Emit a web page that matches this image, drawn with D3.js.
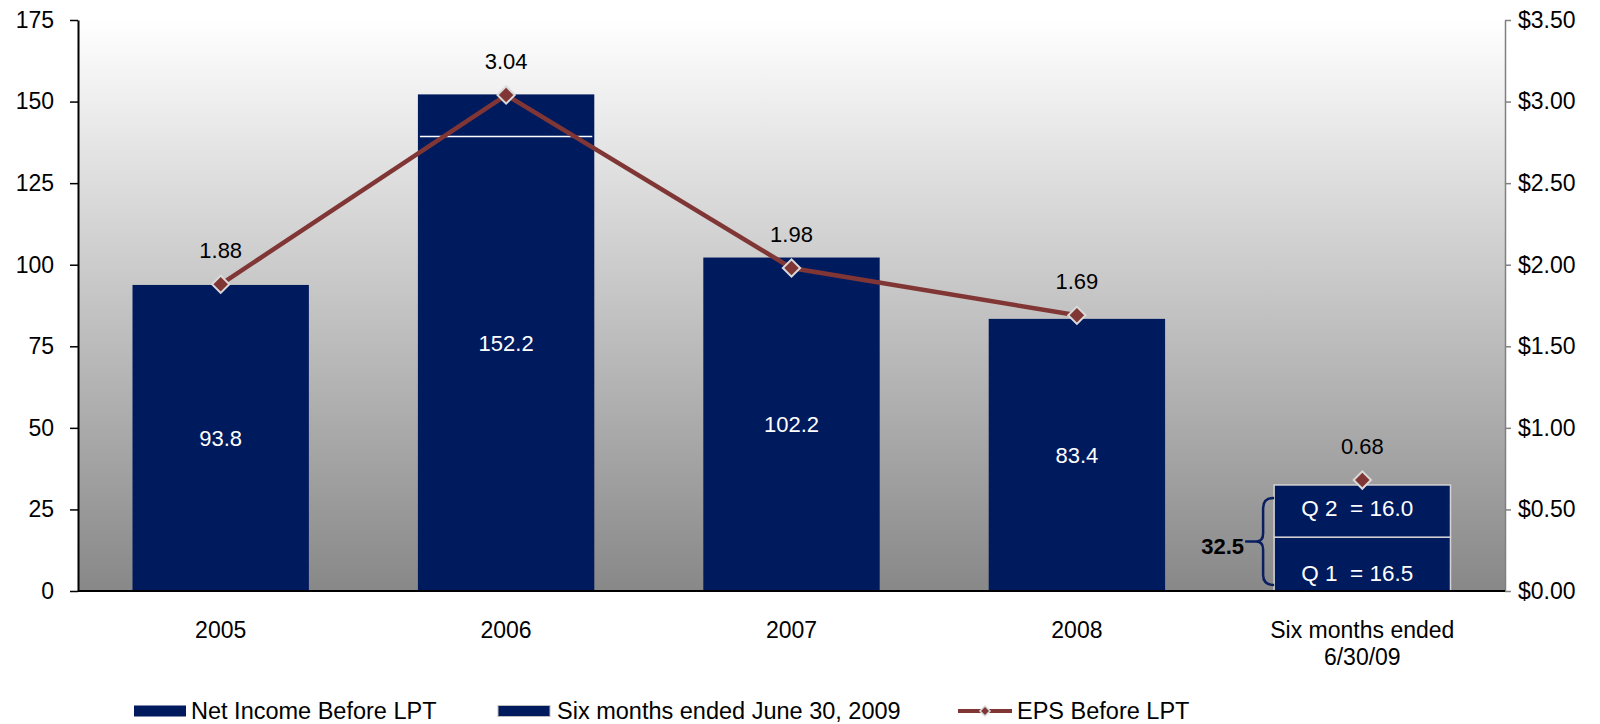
<!DOCTYPE html>
<html>
<head>
<meta charset="utf-8">
<script src="https://cdn.jsdelivr.net/npm/d3@7/dist/d3.min.js"></script>
<style>
  html, body { margin: 0; padding: 0; background: #ffffff; }
  svg { display: block; font-family: "Liberation Sans", Arial, sans-serif; }
</style>
</head>
<body>
<svg id="chart" width="1600" height="724"></svg>
<script>
// Net income (left axis, $ millions) and EPS (right axis) before LPT
const categories = ["2005", "2006", "2007", "2008", "Six months ended 6/30/09"];
const categoryLines = [["2005"], ["2006"], ["2007"], ["2008"], ["Six months ended", "6/30/09"]];
const netIncome = [93.8, 152.2, 102.2, 83.4, null];
const quarterLabels = ["Q 1", "Q 2"];
const quarterValues = [16.5, 16.0];
const eps = [1.88, 3.04, 1.98, 1.69, 0.68];
const leftTicks = [0, 25, 50, 75, 100, 125, 150, 175];
const rightTicks = [0, 0.5, 1, 1.5, 2, 2.5, 3, 3.5];
const legendLabels = ["Net Income Before LPT", "Six months ended June 30, 2009", "EPS Before LPT"];

const NAVY = "#001a5e";
const MAROON = "#813636";

const svg = d3.select("#chart");
const plot = { left: 78, right: 1505, top: 20, bottom: 591 };

const x = d3.scaleBand().domain(categories)
  .range([plot.left, plot.right]).paddingInner(0.382).paddingOuter(0.191);
const yL = d3.scaleLinear().domain([0, 175]).range([plot.bottom, plot.top]);
const yR = d3.scaleLinear().domain([0, 3.5]).range([plot.bottom, plot.top]);

// plot background: white at the top fading to grey at the base
const defs = svg.append("defs");
const grad = defs.append("linearGradient").attr("id", "bg")
  .attr("x1", 0).attr("y1", 0).attr("x2", 0).attr("y2", 1);
grad.append("stop").attr("offset", "0%").attr("stop-color", "#ffffff");
grad.append("stop").attr("offset", "100%").attr("stop-color", "#888888");
svg.append("rect")
  .attr("x", plot.left).attr("y", plot.top)
  .attr("width", plot.right - plot.left).attr("height", plot.bottom - plot.top)
  .attr("fill", "url(#bg)");

// annual net income bars
const annual = categories.map((c, i) => ({ c, v: netIncome[i] })).filter(d => d.v != null);
svg.append("g").selectAll("rect").data(annual).join("rect")
  .attr("x", d => x(d.c)).attr("width", x.bandwidth())
  .attr("y", d => yL(d.v)).attr("height", d => yL(0) - yL(d.v))
  .attr("fill", NAVY);

// thin white seam inside the 2006 bar
svg.append("line")
  .attr("x1", x("2006") + 2).attr("x2", x("2006") + x.bandwidth() - 2)
  .attr("y1", yL(139.3)).attr("y2", yL(139.3))
  .attr("stroke", "#ffffff").attr("stroke-width", 1.5);

svg.append("g").selectAll("text").data(annual).join("text")
  .attr("x", d => x(d.c) + x.bandwidth() / 2)
  .attr("y", d => (yL(d.v) + yL(0)) / 2)
  .attr("dy", "0.36em")
  .attr("text-anchor", "middle")
  .attr("font-size", 22).attr("fill", "#ffffff")
  .text(d => d.v.toFixed(1));

// six-month bar stacked by quarter
const lastCat = categories[categories.length - 1];
const bx = x(lastCat);
let acc = 0;
const stacks = quarterValues.map((v, i) => {
  const s = { label: quarterLabels[i], v, y0: acc, y1: acc + v };
  acc += v;
  return s;
});
const total = d3.sum(quarterValues);

svg.append("g").selectAll("rect").data(stacks).join("rect")
  .attr("x", bx).attr("width", x.bandwidth())
  .attr("y", d => yL(d.y1)).attr("height", d => yL(d.y0) - yL(d.y1))
  .attr("fill", NAVY).attr("stroke", "#d4d4d4").attr("stroke-width", 1.5);

svg.append("g").selectAll("text").data(stacks).join("text")
  .attr("x", bx + x.bandwidth() / 2 - 5)
  .attr("y", (d, i) => (yL(d.y0) + yL(d.y1)) / 2 + (i === 0 ? 9 : -3))
  .attr("dy", "0.36em")
  .attr("text-anchor", "middle")
  .attr("font-size", 22.5).attr("fill", "#ffffff")
  .style("white-space", "pre")
  .text(d => `${d.label}  = ${d.v.toFixed(1)}`);

// brace grouping the two quarters with their total
const bTop = yL(total) + 13, bBot = yL(0) - 6, bMid = (bTop + bBot) / 2;
svg.append("path")
  .attr("d", `M${bx},${bTop} Q${bx - 11},${bTop} ${bx - 11},${bTop + 10} L${bx - 11},${bMid - 8} Q${bx - 11},${bMid} ${bx - 18},${bMid} L${bx - 29},${bMid}` +
             ` M${bx - 18},${bMid} Q${bx - 11},${bMid} ${bx - 11},${bMid + 8} L${bx - 11},${bBot - 10} Q${bx - 11},${bBot} ${bx},${bBot}`)
  .attr("fill", "none").attr("stroke", "#0a1f62").attr("stroke-width", 2.5);
svg.append("text")
  .attr("x", bx - 30).attr("y", bMid + 5).attr("dy", "0.36em")
  .attr("text-anchor", "end").attr("font-size", 22).attr("font-weight", "bold")
  .attr("fill", "#000").text(total.toFixed(1));

// axes
const leftAxis = svg.append("g").attr("transform", `translate(${plot.left},0)`)
  .call(d3.axisLeft(yL).tickValues(leftTicks).tickSize(8).tickPadding(16).tickSizeOuter(0));
leftAxis.select(".domain").attr("stroke", "#000").attr("stroke-width", 2);
leftAxis.selectAll(".tick line").attr("stroke", "#000").attr("stroke-width", 1.5);
leftAxis.selectAll("text").attr("font-size", 23).attr("font-family", null).attr("fill", "#000");

const rightAxis = svg.append("g").attr("transform", `translate(${plot.right},0)`)
  .call(d3.axisRight(yR).tickValues(rightTicks).tickSize(6).tickPadding(7).tickSizeOuter(0)
    .tickFormat(d3.format("$.2f")));
rightAxis.select(".domain").attr("stroke", "#808080").attr("stroke-width", 1.5);
rightAxis.selectAll(".tick line").attr("stroke", "#808080").attr("stroke-width", 1.5);
rightAxis.selectAll("text").attr("font-size", 23).attr("font-family", null).attr("fill", "#000");

svg.append("line")
  .attr("x1", plot.left).attr("x2", plot.right)
  .attr("y1", yL(0)).attr("y2", yL(0))
  .attr("stroke", "#000").attr("stroke-width", 2);

// category labels
const catG = svg.append("g").selectAll("text").data(categories).join("text")
  .attr("x", d => x(d) + x.bandwidth() / 2)
  .attr("y", yL(0) + 47)
  .attr("text-anchor", "middle").attr("font-size", 23).attr("fill", "#000");
catG.selectAll("tspan").data((d, i) => categoryLines[i]).join("tspan")
  .attr("x", function () { return d3.select(this.parentNode).attr("x"); })
  .attr("dy", (d, j) => j === 0 ? 0 : 27)
  .text(d => d);

// EPS line with diamond markers
const epsPts = categories.map((c, i) => ({ c, v: eps[i] }));
svg.append("path")
  .attr("d", d3.line().x(d => x(d.c) + x.bandwidth() / 2).y(d => yR(d.v))(epsPts.slice(0, 4)))
  .attr("fill", "none").attr("stroke", MAROON).attr("stroke-width", 4.5);

svg.append("g").selectAll("path").data(epsPts).join("path")
  .attr("transform", d => `translate(${x(d.c) + x.bandwidth() / 2},${yR(d.v)}) rotate(45)`)
  .attr("d", d3.symbol().type(d3.symbolSquare).size(150))
  .attr("fill", MAROON).attr("stroke", "#d9d9d9").attr("stroke-width", 2);

svg.append("g").selectAll("text").data(epsPts).join("text")
  .attr("x", d => x(d.c) + x.bandwidth() / 2)
  .attr("y", d => yR(d.v) - 34)
  .attr("dy", "0.36em")
  .attr("text-anchor", "middle").attr("font-size", 22).attr("fill", "#000")
  .text(d => d.v.toFixed(2));

// legend
const legendY = 711;
const legendItems = [
  { label: legendLabels[0], sx: 134, tx: 191, type: "bar", stroke: "none" },
  { label: legendLabels[1], sx: 498, tx: 557, type: "bar", stroke: "#bdbdbd" },
  { label: legendLabels[2], sx: 958, tx: 1017, type: "line" }
];
const lg = svg.append("g");
legendItems.forEach(it => {
  if (it.type === "bar") {
    lg.append("rect").attr("x", it.sx).attr("y", legendY - 5.5)
      .attr("width", 52).attr("height", 11)
      .attr("fill", NAVY).attr("stroke", it.stroke).attr("stroke-width", 1);
  } else {
    lg.append("line").attr("x1", it.sx).attr("x2", it.sx + 54)
      .attr("y1", legendY).attr("y2", legendY)
      .attr("stroke", MAROON).attr("stroke-width", 4);
    lg.append("path")
      .attr("transform", `translate(${it.sx + 27},${legendY}) rotate(45)`)
      .attr("d", d3.symbol().type(d3.symbolSquare).size(50))
      .attr("fill", MAROON).attr("stroke", "#d9d9d9").attr("stroke-width", 1.5);
  }
  lg.append("text").attr("x", it.tx).attr("y", legendY).attr("dy", "0.36em")
    .attr("font-size", 23.5).attr("fill", "#000").text(it.label);
});
</script>
</body>
</html>
